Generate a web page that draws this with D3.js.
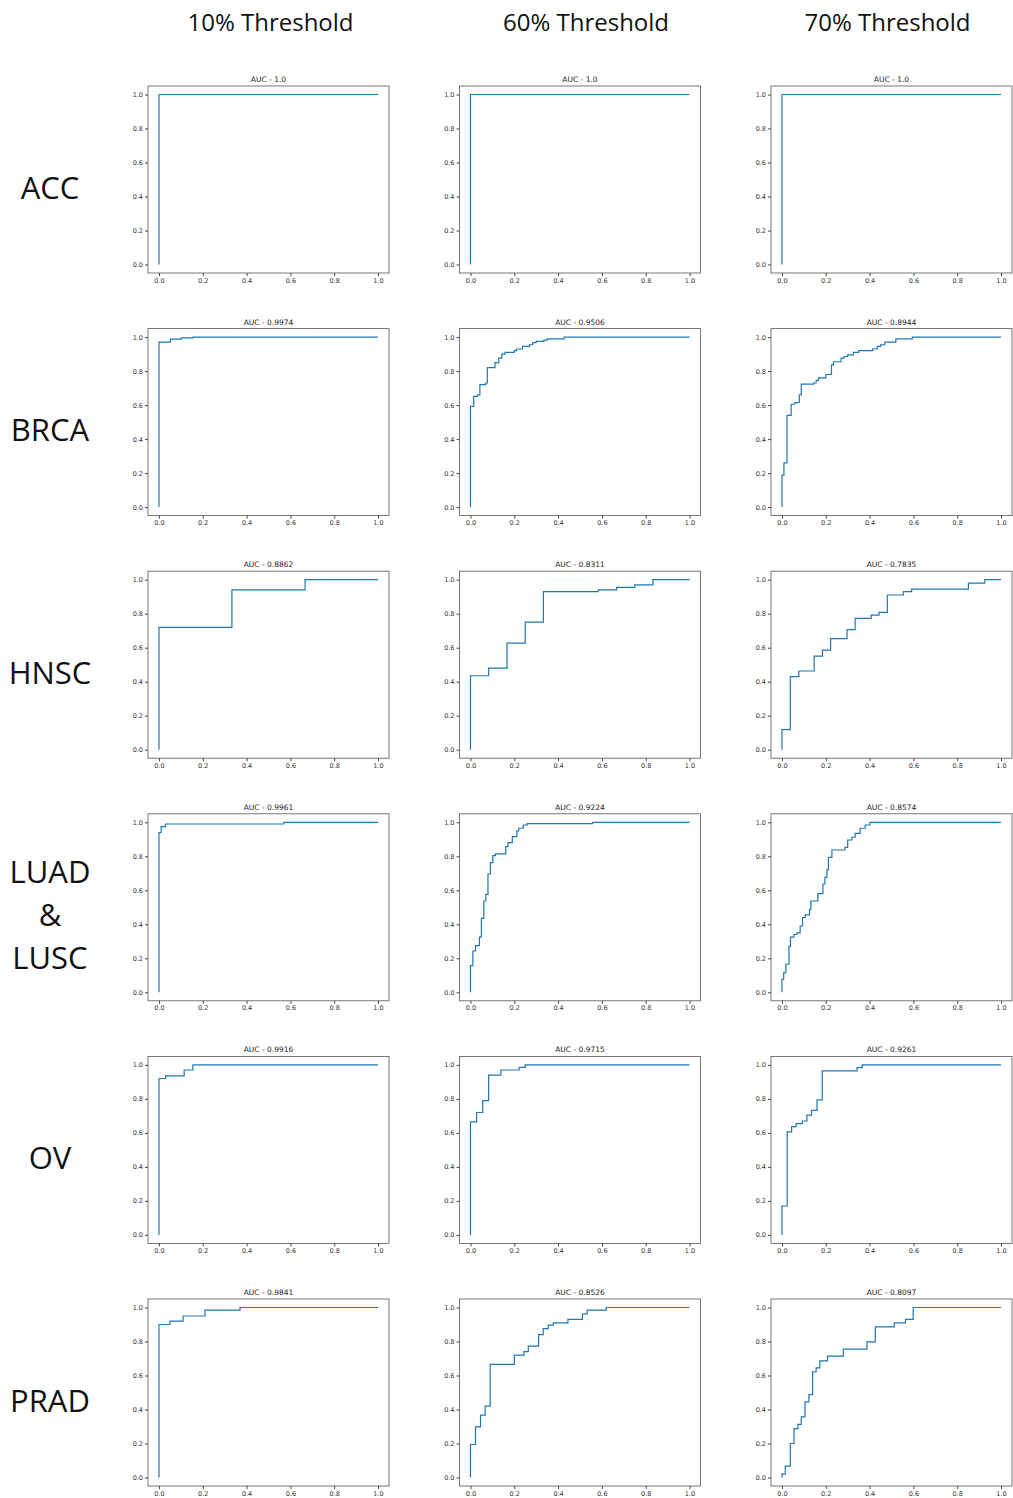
<!DOCTYPE html>
<html>
<script src='https://d3js.org/d3.v7.min.js'></script>
<style>
 body {margin: 0; background: white;}
 .tick text {font-family: 'DejaVu Sans', sans-serif; font-size: 6.5px; fill: #333;}
 .tick line {stroke: #444;}
 .rowlab {font-family: 'Open Sans', sans-serif; font-size: 31px; fill: #111;}
 .collab {font-family: 'Open Sans', sans-serif; font-size: 24px; fill: #111;}
 .ttl {font-family: 'DejaVu Sans', sans-serif; font-size: 7.5px; fill: #222;}
</style>
<body onload='init()'>
<svg width=1013 height=1498></svg>
<script>

// labels
var rows = ['ACC', 'BRCA', 'HNSC', 'LUAD\n&\nLUSC', 'OV', 'PRAD'];
var thresholds = ['10% Threshold', '60% Threshold', '70% Threshold'];
var aucs = [
 ['1.0', '1.0', '1.0'],
 ['0.9974', '0.9506', '0.8944'],
 ['0.8862', '0.8311', '0.7835'],
 ['0.9961', '0.9224', '0.8574'],
 ['0.9916', '0.9715', '0.9261'],
 ['0.9841', '0.8526', '0.8097']
];
var ticks = [0, 0.2, 0.4, 0.6, 0.8, 1.0];

// ROC points (fpr, tpr)
var fprACC10 = [0, 0, 1], tprACC10 = [0, 1, 1];
var fprACC60 = [0, 0, 1], tprACC60 = [0, 1, 1];
var fprACC70 = [0, 0, 1], tprACC70 = [0, 1, 1];

var fprBRCA10 = [0, 0, 0.052, 0.102, 0.155, 1];
var tprBRCA10 = [0, 0.97, 0.988, 0.996, 1.0, 1];
var fprBRCA60 = [0, 0, 0.015, 0.032, 0.043, 0.07, 0.077, 0.112, 0.129, 0.143, 0.158, 0.2, 0.21, 0.238, 0.27, 0.284, 0.3, 0.335, 0.35, 0.428, 1];
var tprBRCA60 = [0, 0.592, 0.651, 0.66, 0.72, 0.73, 0.82, 0.85, 0.876, 0.9, 0.91, 0.92, 0.93, 0.945, 0.955, 0.968, 0.975, 0.982, 0.99, 1.0, 1];
var fprBRCA70 = [0, 0, 0.009, 0.023, 0.042, 0.058, 0.079, 0.088, 0.144, 0.156, 0.167, 0.2, 0.226, 0.235, 0.27, 0.284, 0.3, 0.326, 0.35, 0.414, 0.435, 0.45, 0.47, 0.52, 0.595, 1];
var tprBRCA70 = [0, 0.188, 0.26, 0.54, 0.605, 0.615, 0.66, 0.723, 0.73, 0.745, 0.76, 0.78, 0.837, 0.855, 0.876, 0.886, 0.896, 0.91, 0.92, 0.93, 0.945, 0.955, 0.97, 0.99, 1.0, 1];

var fprHNSC10 = [0, 0, 0.333, 0.667, 1];
var tprHNSC10 = [0, 0.72, 0.94, 1.0, 1];
var fprHNSC60 = [0, 0, 0.083, 0.167, 0.25, 0.333, 0.583, 0.667, 0.75, 0.833, 1];
var tprHNSC60 = [0, 0.435, 0.48, 0.627, 0.75, 0.93, 0.94, 0.955, 0.97, 1.0, 1];
var fprHNSC70 = [0, 0, 0.038, 0.077, 0.147, 0.185, 0.222, 0.297, 0.334, 0.407, 0.443, 0.481, 0.554, 0.592, 0.851, 0.926, 1];
var tprHNSC70 = [0, 0.118, 0.43, 0.463, 0.55, 0.586, 0.653, 0.706, 0.773, 0.792, 0.808, 0.91, 0.93, 0.945, 0.98, 1.0, 1];

var fprLUAD10 = [0, 0, 0.01, 0.03, 0.57, 1];
var tprLUAD10 = [0, 0.94, 0.975, 0.99, 1.0, 1];
var fprLUAD60 = [0, 0, 0.011, 0.023, 0.041, 0.05, 0.061, 0.07, 0.08, 0.091, 0.102, 0.114, 0.161, 0.171, 0.191, 0.212, 0.22, 0.241, 0.259, 0.558, 1];
var tprLUAD60 = [0, 0.157, 0.243, 0.275, 0.324, 0.435, 0.537, 0.576, 0.696, 0.763, 0.804, 0.814, 0.857, 0.88, 0.916, 0.95, 0.965, 0.984, 0.992, 1.0, 1];
var fprLUAD70 = [0, 0, 0.008, 0.018, 0.032, 0.039, 0.055, 0.068, 0.083, 0.094, 0.106, 0.126, 0.132, 0.164, 0.187, 0.196, 0.205, 0.212, 0.228, 0.288, 0.3, 0.319, 0.334, 0.357, 0.38, 0.402, 1];
var tprLUAD70 = [0, 0.076, 0.116, 0.165, 0.27, 0.324, 0.34, 0.35, 0.39, 0.44, 0.455, 0.488, 0.537, 0.58, 0.637, 0.676, 0.72, 0.794, 0.837, 0.853, 0.896, 0.912, 0.935, 0.965, 0.984, 1.0, 1];

var fprOV10 = [0, 0, 0.03, 0.115, 0.155, 1];
var tprOV10 = [0, 0.92, 0.935, 0.97, 1.0, 1];
var fprOV60 = [0, 0, 0.028, 0.056, 0.083, 0.139, 0.222, 0.25, 1];
var tprOV60 = [0, 0.665, 0.72, 0.79, 0.94, 0.97, 0.985, 1.0, 1];
var fprOV70 = [0, 0, 0.024, 0.044, 0.065, 0.093, 0.114, 0.135, 0.16, 0.184, 0.343, 0.366, 1];
var tprOV70 = [0, 0.17, 0.606, 0.637, 0.655, 0.67, 0.704, 0.733, 0.794, 0.965, 0.984, 1.0, 1];

var fprPRAD10 = [0, 0, 0.05, 0.11, 0.21, 0.37, 1];
var tprPRAD10 = [0, 0.9, 0.92, 0.95, 0.985, 1.0, 1];
var fprPRAD60 = [0, 0, 0.023, 0.046, 0.067, 0.09, 0.2, 0.244, 0.264, 0.311, 0.332, 0.355, 0.378, 0.445, 0.511, 0.533, 0.62, 1];
var tprPRAD60 = [0, 0.194, 0.298, 0.367, 0.42, 0.665, 0.72, 0.74, 0.773, 0.84, 0.876, 0.896, 0.91, 0.93, 0.963, 0.984, 1.0, 1];
var fprPRAD70 = [0, 0, 0.015, 0.038, 0.055, 0.073, 0.088, 0.105, 0.123, 0.14, 0.156, 0.173, 0.208, 0.28, 0.388, 0.426, 0.513, 0.564, 0.599, 1];
var tprPRAD70 = [0, 0.02, 0.067, 0.2, 0.288, 0.312, 0.357, 0.445, 0.488, 0.622, 0.645, 0.686, 0.714, 0.755, 0.798, 0.886, 0.91, 0.93, 1.0, 1];

var curves = [
 [[fprACC10, tprACC10], [fprACC60, tprACC60], [fprACC70, tprACC70]],
 [[fprBRCA10, tprBRCA10], [fprBRCA60, tprBRCA60], [fprBRCA70, tprBRCA70]],
 [[fprHNSC10, tprHNSC10], [fprHNSC60, tprHNSC60], [fprHNSC70, tprHNSC70]],
 [[fprLUAD10, tprLUAD10], [fprLUAD60, tprLUAD60], [fprLUAD70, tprLUAD70]],
 [[fprOV10, tprOV10], [fprOV60, tprOV60], [fprOV70, tprOV70]],
 [[fprPRAD10, tprPRAD10], [fprPRAD60, tprPRAD60], [fprPRAD70, tprPRAD70]]
];

function init() {
 var svg = d3.select('svg');
 svg.append('rect').attr('width', 1013).attr('height', 1498).attr('fill', 'white');

 var w = 241, h = 187;
 var x0 = 148, dx = 311.5, y0 = 86, dy = 242.6;

 // matplotlib style 5% padding
 var x = d3.scaleLinear().domain([-0.05, 1.05]).range([0, w]);
 var y = d3.scaleLinear().domain([-0.05, 1.05]).range([h, 0]);
 var line = d3.line().x(function (d) { return x(d[0]); }).y(function (d) { return y(d[1]); })
  .curve(d3.curveStepAfter);

 // column headers
 svg.selectAll('.collab').data(thresholds).enter()
  .append('text').attr('class', 'collab')
  .attr('x', function (d, i) { return x0 + i * dx + w / 2 + [2, 6, -4][i]; })
  .attr('y', 31)
  .attr('text-anchor', 'middle')
  .text(function (d) { return d; });

 rows.forEach(function (name, r) {
  var top = y0 + r * dy;
  var parts = name.split('\n');
  var lab = svg.append('text').attr('class', 'rowlab').attr('text-anchor', 'middle');
  parts.forEach(function (p, k) {
   lab.append('tspan').attr('x', 50)
    .attr('y', top + h / 2 + 19 + (k - (parts.length - 1) / 2) * 43)
    .text(p);
  });

  for (var c = 0; c < 3; c++) {
   var g = svg.append('g').attr('transform', 'translate(' + (x0 + c * dx) + ',' + top + ')');

   g.append('g').attr('transform', 'translate(0,' + h + ')')
    .call(d3.axisBottom(x).tickValues(ticks).tickFormat(d3.format('.1f')).tickSize(3).tickPadding(2))
    .call(function (a) { a.select('.domain').remove(); });
   g.append('g')
    .call(d3.axisLeft(y).tickValues(ticks).tickFormat(d3.format('.1f')).tickSize(3).tickPadding(2))
    .call(function (a) { a.select('.domain').remove(); });

   g.append('rect').attr('width', w).attr('height', h)
    .attr('fill', 'none').attr('stroke', '#555').attr('stroke-width', 0.8);

   g.append('text').attr('class', 'ttl')
    .attr('x', w / 2).attr('y', -4).attr('text-anchor', 'middle')
    .text('AUC - ' + aucs[r][c]);

   var fpr = curves[r][c][0], tpr = curves[r][c][1];
   var pts = fpr.map(function (f, i) { return [f, tpr[i]]; });
   g.append('path').datum(pts)
    .attr('d', line)
    .attr('fill', 'none')
    .attr('stroke', '#1f77b4')
    .attr('stroke-width', 1.2);
  }
 });
}

</script>
</body>
</html>
